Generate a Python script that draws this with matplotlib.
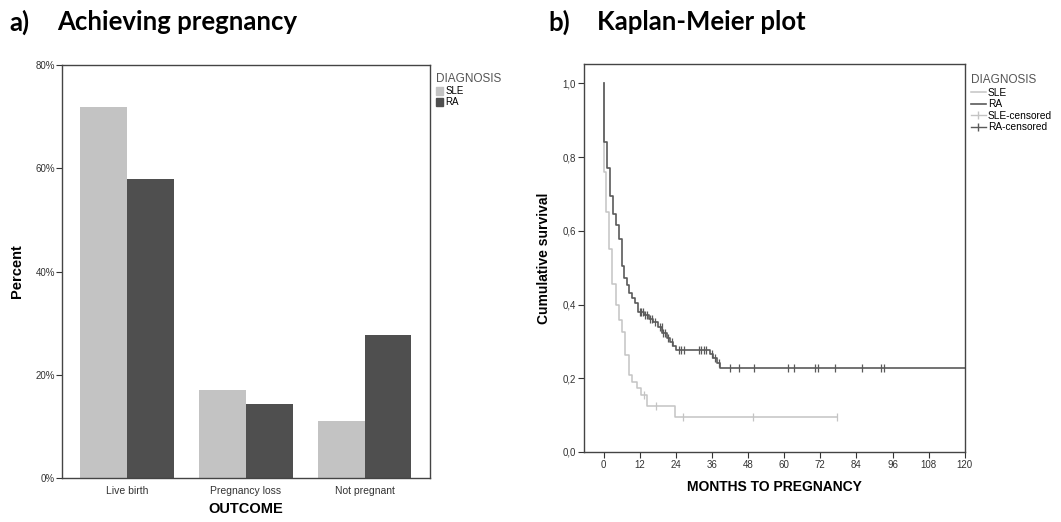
import numpy as np
import matplotlib
matplotlib.use('Agg')
import matplotlib.pyplot as plt
from matplotlib.lines import Line2D
from matplotlib.patches import Patch

# Bar chart data (percent of each diagnosis group)
outcomes = ['Live birth', 'Pregnancy loss', 'Not pregnant']
sle_pct = [71.9, 17.0, 11.1]
ra_pct = [57.9, 14.4, 27.7]

# Kaplan-Meier steps: time of each drop and survival after it
ra_times = [0, 1.1, 2.0, 3.1, 4.0, 5.1, 6.0, 6.9, 7.8, 8.6, 9.6, 10.6, 11.6,
            13.5, 15.0, 16.5, 18.0, 19.5, 21.0, 22.2, 23.2, 24.2,
            35.3, 36.5, 37.6, 38.8]
ra_surv = [0.84, 0.77, 0.695, 0.645, 0.615, 0.578, 0.505, 0.472, 0.452, 0.432,
           0.418, 0.404, 0.380, 0.372, 0.362, 0.352, 0.338, 0.322, 0.310,
           0.298, 0.287, 0.276, 0.265, 0.254, 0.242, 0.229]
ra_censored = [12.0, 12.6, 13.1, 13.8, 14.4, 15.3, 16.0, 17.0, 18.8, 19.3,
               19.8, 20.4, 21.5, 22.6, 25.0, 25.8, 26.6, 31.8, 32.5, 33.2,
               34.0, 36.0, 37.0, 38.2, 42, 45, 50, 61.3, 63.2, 70.3, 71.3,
               77, 86, 92.2, 93.2]
ra_end = 120

sle_times = [0, 0.8, 1.8, 2.8, 4.0, 5.2, 6.2, 7.2, 8.3, 9.6, 11.2, 12.3,
             14.4, 23.6]
sle_surv = [0.76, 0.65, 0.55, 0.455, 0.40, 0.358, 0.326, 0.263, 0.209, 0.19,
            0.173, 0.154, 0.124, 0.096]
sle_censored = [13.4, 17.3, 26.5, 49.5, 77.5]
sle_end = 77.5

SLE_BAR = '#c3c3c3'
RA_BAR = '#4f4f4f'
SLE_LINE = '#c4c4c4'
RA_LINE = '#5a5a5a'
TXT = '#333333'

plt.rcParams['font.family'] = ['Liberation Sans', 'DejaVu Sans']

fig = plt.figure(figsize=(10.61, 5.22), dpi=100)

# ---- a) bar chart
ax1 = fig.add_axes([0.0584, 0.0843, 0.3468, 0.791])
x = np.arange(len(outcomes))
w = 0.394
ax1.bar(x - w / 2, sle_pct, width=w, color=SLE_BAR, label='SLE')
ax1.bar(x + w / 2, ra_pct, width=w, color=RA_BAR, label='RA')
ax1.set_xlim(-0.55, 2.55)
ax1.set_ylim(0, 80)
ax1.set_yticks([0, 20, 40, 60, 80])
ax1.set_yticklabels(['0%', '20%', '40%', '60%', '80%'])
ax1.set_xticks(x)
ax1.set_xticklabels(outcomes)
ax1.tick_params(axis='x', length=0, labelsize=7.5, colors=TXT, pad=6)
ax1.tick_params(axis='y', length=4, labelsize=7, colors=TXT, pad=1)
ax1.set_ylabel('Percent', fontsize=10.5, fontweight='bold', labelpad=8)
ax1.set_xlabel('OUTCOME', fontsize=10.5, fontweight='bold', labelpad=4)
for s in ax1.spines.values():
    s.set_color('#444444')
    s.set_linewidth(1.0)
leg1 = ax1.legend(handles=[Patch(color=SLE_BAR, label='SLE'), Patch(color=RA_BAR, label='RA')],
                  title='DIAGNOSIS', loc='upper left', bbox_to_anchor=(1.005, 0.99),
                  frameon=False, fontsize=7, title_fontsize=8.5, handlelength=0.8,
                  handleheight=0.9, handletextpad=0.2, labelspacing=0.1, borderaxespad=0)
leg1._legend_box.align = 'left'
leg1.get_title().set_color('#555555')

# ---- b) Kaplan-Meier plot
ax2 = fig.add_axes([0.5504, 0.1341, 0.359, 0.743])


def km_line(times, surv, end):
    xs = [0] + list(times) + [end]
    ys = [1.0] + list(surv) + [surv[-1]]
    return xs, ys


def surv_at(times, surv, t):
    i = np.searchsorted(times, t, side='right') - 1
    return 1.0 if i < 0 else surv[i]


xs, ys = km_line(sle_times, sle_surv, sle_end)
ax2.step(xs, ys, where='post', color=SLE_LINE, lw=1.1)
ax2.plot(sle_censored, [surv_at(sle_times, sle_surv, c) for c in sle_censored],
         ls='none', marker='|', ms=6, mew=0.9, color=SLE_LINE)

xs, ys = km_line(ra_times, ra_surv, ra_end)
ax2.step(xs, ys, where='post', color=RA_LINE, lw=1.2)
ax2.plot(ra_censored, [surv_at(ra_times, ra_surv, c) for c in ra_censored],
         ls='none', marker='|', ms=6, mew=0.9, color=RA_LINE)

ax2.set_xlim(-6.5, 120)
ax2.set_ylim(0, 1.052)
ax2.set_xticks(np.arange(0, 121, 12))
ax2.set_yticks([0, 0.2, 0.4, 0.6, 0.8, 1.0])
ax2.set_yticklabels(['0,0', '0,2', '0,4', '0,6', '0,8', '1,0'])
ax2.tick_params(axis='both', length=4, labelsize=7, colors=TXT, pad=2)
ax2.set_ylabel('Cumulative survival', fontsize=10, fontweight='bold', labelpad=8)
ax2.set_xlabel('MONTHS TO PREGNANCY', fontsize=10, fontweight='bold', labelpad=7)
for s in ax2.spines.values():
    s.set_color('#444444')
    s.set_linewidth(1.0)
handles2 = [Line2D([], [], color=SLE_LINE, lw=1.1, label='SLE'),
            Line2D([], [], color=RA_LINE, lw=1.2, label='RA'),
            Line2D([], [], color=SLE_LINE, lw=1.0, marker='|', ms=6, label='SLE-censored'),
            Line2D([], [], color=RA_LINE, lw=1.0, marker='|', ms=6, label='RA-censored')]
leg2 = ax2.legend(handles=handles2, title='DIAGNOSIS', loc='upper left',
                  bbox_to_anchor=(1.005, 0.985), frameon=False, fontsize=7.3,
                  title_fontsize=8.5, handlelength=1.5, handletextpad=0.2,
                  labelspacing=0.15, borderaxespad=0)
leg2._legend_box.align = 'left'
leg2.get_title().set_color('#555555')

# panel titles
fig.text(0.009, 0.958, 'a)', fontsize=18.5, fontweight='bold', family='Lato', va='center')
fig.text(0.054, 0.958, 'Achieving pregnancy', fontsize=18.5, fontweight='bold', family='Lato', va='center')
fig.text(0.517, 0.958, 'b)', fontsize=18.5, fontweight='bold', family='Lato', va='center')
fig.text(0.563, 0.958, 'Kaplan-Meier plot', fontsize=18.5, fontweight='bold', family='Lato', va='center')

fig.savefig('out.png', dpi=100)
